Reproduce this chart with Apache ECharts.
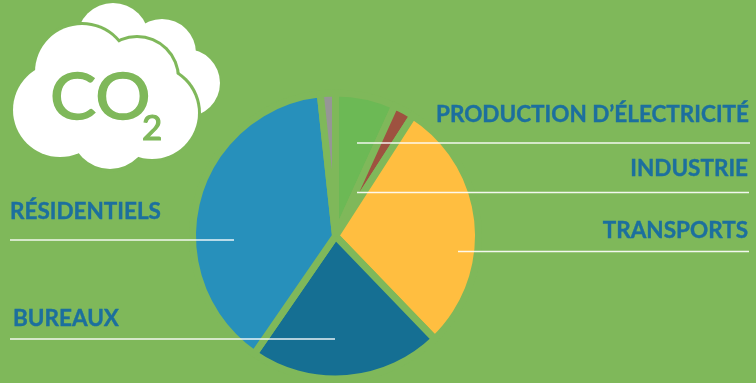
<!DOCTYPE html>
<html>
<head>
<meta charset="utf-8">
<style>html,body{margin:0;padding:0;background:#7FB85A}#c{width:756px;height:383px}</style>
<script src="https://cdn.jsdelivr.net/npm/echarts@6/dist/echarts.min.js"></script>
</head>
<body>
<div id="c"></div>
<script>
// CO2 emissions by sector, in percent; the last slice carries no label
const categories = ['PRODUCTION D’ÉLECTRICITÉ', 'INDUSTRIE', 'TRANSPORTS', 'BUREAUX', 'RÉSIDENTIELS', ''];
const shares = [6.8, 2.3, 28.7, 21.8, 38.7, 1.7];
const colors = ['#6CB955', '#9E5240', '#FFBE40', '#156F93', '#2790BB', '#969696'];

const BG = '#7FB85A';
const TEXT = '#1C6F9E';

// Label anchors, by slice index
const labelSpots = [
  { x: 749, y: 115, align: 'right' },
  { x: 748, y: 169, align: 'right' },
  { x: 748, y: 231, align: 'right' },
  { x: 13, y: 319, align: 'left' },
  { x: 10, y: 212, align: 'left' }
];

// White rules under the labels: [x1, x2, y]
const rules = [
  [357, 750, 143],
  [357, 749, 192.5],
  [458, 749, 251.5],
  [10, 234, 240],
  [10, 335, 339]
];

// Cloud icon, built from overlapping discs: [cx, cy, r]
const backCloud = [[113, 39, 36], [162, 53, 34], [186, 83, 34], [150, 75, 40]];
const frontCloud = [[60, 110, 47], [82, 72, 47], [137, 78, 40], [152, 113, 46], [110, 130, 39], [105, 105, 50]];

const disc = (c, fill, grow, z) => ({
  type: 'circle', silent: true, z,
  shape: { cx: c[0], cy: c[1], r: c[2] + grow },
  style: { fill }
});

const chart = echarts.init(document.getElementById('c'), null, { renderer: 'canvas' });
chart.setOption({
  backgroundColor: BG,
  animation: false,
  series: [{
    type: 'pie',
    center: [335.5, 236],
    radius: [0, 143],
    startAngle: 90,
    clockwise: true,
    silent: true,
    avoidLabelOverlap: false,
    // The thick background-coloured border opens the gaps between slices;
    // the low miter limit stops thin slices from spiking across the centre
    itemStyle: { borderColor: BG, borderWidth: 7, borderJoin: 'miter', borderMiterLimit: 3 },
    label: {
      show: true,
      formatter: '{b}',
      color: TEXT,
      fontFamily: 'Lato',
      fontWeight: 'bold',
      fontSize: 22.5,
      textBorderColor: TEXT,
      textBorderWidth: 0.4
    },
    labelLine: { show: false },
    labelLayout: p => {
      const s = labelSpots[p.dataIndex];
      return s ? { x: s.x, y: s.y, align: s.align, verticalAlign: 'middle' } : {};
    },
    data: categories.map((name, i) => ({ name, value: shares[i], itemStyle: { color: colors[i] } }))
  }],
  graphic: [
    ...backCloud.map(c => disc(c, '#fff', 0, 20)),
    ...frontCloud.map(c => disc(c, BG, 3, 21)),
    ...frontCloud.map(c => disc(c, '#fff', 0, 22)),
    {
      type: 'text', silent: true, z: 23, x: 50, y: 98, scaleX: 1.08,
      style: { text: 'CO', fill: BG, stroke: BG, lineWidth: 1.5, font: '64px Lato', textVerticalAlign: 'middle' }
    },
    {
      type: 'text', silent: true, z: 23, x: 142, y: 129,
      style: { text: '2', fill: BG, stroke: BG, lineWidth: 1.2, font: '35px Lato', textVerticalAlign: 'middle' }
    },
    ...rules.map(r => ({
      type: 'line', silent: true, z: 30,
      shape: { x1: r[0], y1: r[2], x2: r[1], y2: r[2] },
      style: { stroke: '#fff', lineWidth: 1.5, opacity: 0.9 }
    }))
  ]
});
</script>
</body>
</html>
